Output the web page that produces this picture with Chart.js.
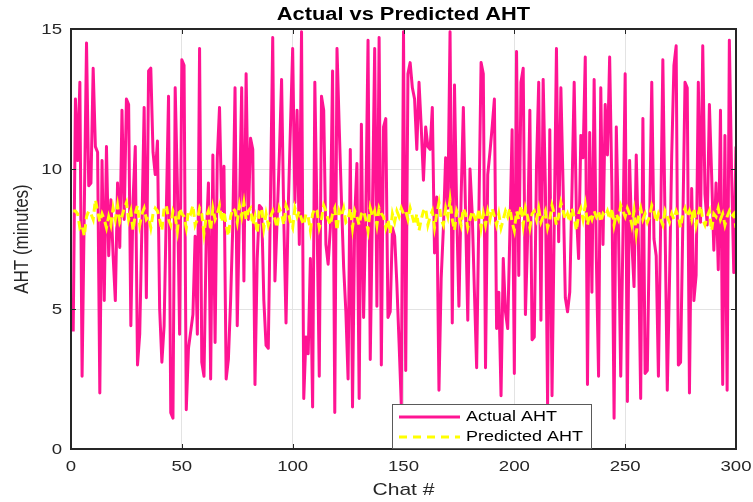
<!DOCTYPE html>
<html>
<head>
<meta charset="utf-8">
<title>Actual vs Predicted AHT</title>
<script src="https://cdn.jsdelivr.net/npm/chart.js@4.4.0/dist/chart.umd.min.js"></script>
<style>
  html, body { margin: 0; padding: 0; background: #fff; }
  #wrap { width: 753px; height: 502px; }
</style>
</head>
<body>
<div id="wrap"><canvas id="aht" width="753" height="502"></canvas></div>
<script>
// actual handle time per chat (minutes), chats 1..300
var actualAHT = [
    4.2, 12.5, 10.3, 13.1, 2.6, 8.6, 14.5, 9.4, 9.5, 13.6,
    10.8, 10.6, 2.0, 10.3, 5.3, 10.8, 6.9, 8.9, 6.9, 5.3,
    9.5, 7.2, 12.1, 8.2, 12.5, 12.3, 4.4, 8.9, 10.8, 3.0,
    4.1, 8.0, 12.2, 5.4, 13.5, 13.6, 10.6, 9.8, 11.0, 5.0,
    3.1, 4.4, 8.5, 12.6, 1.3, 1.1, 12.9, 9.4, 4.1, 13.9,
    13.7, 1.4, 3.6, 4.2, 4.8, 7.6, 4.1, 14.3, 3.1, 2.6,
    7.5, 9.5, 2.5, 10.5, 3.8, 10.4, 12.2, 8.5, 10.1, 2.5,
    3.2, 5.3, 8.0, 12.9, 4.4, 8.5, 12.9, 6.0, 13.4, 8.2,
    11.1, 10.7, 2.3, 6.8, 8.7, 8.6, 5.3, 3.7, 3.6, 9.0,
    14.7, 6.0, 8.2, 10.5, 13.2, 8.2, 4.5, 8.6, 11.5, 14.3,
    8.8, 12.1, 7.3, 14.9, 1.8, 4.0, 3.4, 6.8, 1.5, 13.1,
    8.2, 2.6, 12.6, 12.1, 7.3, 6.6, 7.9, 13.5, 1.3, 14.3,
    11.5, 8.9, 6.5, 4.9, 2.5, 10.7, 1.5, 8.3, 10.2, 1.8,
    11.6, 4.7, 8.5, 14.6, 3.2, 8.6, 14.3, 5.1, 14.7, 3.0,
    11.5, 11.8, 4.7, 4.9, 7.9, 7.6, 5.9, 3.8, 1.6, 14.9,
    2.8, 13.4, 13.8, 12.9, 12.5, 10.7, 13.1, 11.5, 9.6, 11.5,
    10.8, 10.7, 12.2, 7.0, 9.0, 2.1, 6.1, 7.9, 10.4, 8.6,
    14.9, 4.5, 13.0, 8.5, 5.1, 9.0, 12.2, 8.4, 4.6, 10.0,
    8.4, 5.6, 2.9, 8.4, 13.8, 13.4, 2.9, 9.8, 10.6, 11.5,
    12.5, 4.3, 5.6, 1.9, 6.8, 4.9, 4.3, 7.8, 11.4, 2.7,
    14.2, 6.2, 13.1, 13.6, 4.8, 7.6, 12.1, 3.9, 4.0, 10.1,
    13.1, 4.6, 13.2, 9.4, 1.6, 11.4, 1.9, 8.0, 14.3, 7.4,
    12.9, 9.4, 5.4, 4.9, 5.6, 9.2, 13.1, 8.4, 6.8, 11.2,
    10.4, 14.0, 2.3, 11.3, 5.6, 13.2, 6.8, 2.6, 12.9, 7.3,
    12.3, 10.5, 14.0, 9.4, 1.1, 11.5, 7.8, 2.6, 7.6, 13.4,
    1.7, 10.3, 7.4, 5.8, 10.5, 7.3, 1.8, 11.8, 2.7, 2.8,
    8.0, 13.1, 7.5, 6.9, 2.6, 8.0, 13.9, 8.0, 2.1, 6.0,
    10.5, 13.7, 14.4, 3.0, 3.1, 8.0, 13.1, 12.9, 2.0, 9.3,
    5.3, 6.2, 13.1, 8.1, 14.4, 9.1, 8.0, 12.3, 9.8, 7.1,
    9.5, 6.4, 12.1, 2.3, 11.2, 2.1, 14.6, 9.9, 6.3, 10.8
];

// model output for the same chats
var predictedAHT = [
    8.5, 8.5, 8.4, 7.9, 8.0, 7.6, 8.3, 8.5, 8.4, 8.2,
    8.9, 8.5, 8.1, 8.4, 8.2, 7.9, 8.3, 8.0, 8.6, 8.2,
    8.7, 8.1, 8.3, 8.6, 8.8, 8.2, 8.5, 7.8, 8.4, 8.7,
    8.0, 8.4, 8.6, 8.2, 8.3, 7.9, 8.4, 8.6, 8.5, 8.2,
    7.8, 8.6, 8.7, 8.2, 8.0, 8.5, 8.3, 7.8, 8.6, 8.4,
    8.3, 7.9, 8.5, 8.4, 8.7, 8.0, 8.2, 8.6, 8.4, 7.7,
    8.3, 8.5, 7.8, 8.6, 8.2, 8.4, 8.7, 8.1, 8.5, 8.0,
    7.6, 8.3, 8.6, 8.5, 8.1, 8.7, 8.3, 8.8, 8.2, 8.5,
    8.6, 8.0, 8.3, 7.7, 8.5, 8.6, 7.9, 8.4, 8.0, 8.3,
    8.5, 8.2, 7.9, 8.6, 8.4, 8.0, 8.7, 8.5, 8.1, 7.9,
    8.6, 8.3, 8.5, 8.2, 8.0, 8.4, 8.3, 7.8, 8.4, 8.6,
    8.5, 7.9, 8.2, 8.7, 8.5, 8.2, 8.0, 8.4, 8.6, 7.8,
    8.5, 8.3, 8.6, 8.1, 8.2, 8.6, 7.9, 8.5, 8.3, 8.0,
    8.4, 8.5, 8.2, 7.8, 8.6, 8.3, 8.5, 8.0, 8.6, 8.4,
    8.3, 7.9, 8.2, 7.7, 8.4, 8.1, 8.5, 8.3, 8.6, 8.4,
    8.5, 8.2, 8.6, 8.3, 8.0, 8.4, 7.8, 8.2, 8.5, 8.6,
    8.0, 8.3, 8.5, 7.9, 8.4, 8.8, 8.2, 8.0, 8.6, 8.3,
    8.9, 8.2, 7.8, 8.5, 8.3, 8.0, 8.6, 8.4, 7.9, 8.2,
    8.5, 8.3, 8.1, 8.6, 7.9, 8.4, 8.0, 8.5, 8.2, 8.6,
    8.3, 8.0, 8.4, 7.9, 8.2, 8.5, 8.3, 8.6, 8.1, 7.8,
    8.5, 8.2, 8.7, 8.0, 8.6, 8.3, 7.9, 8.4, 8.5, 8.2,
    8.6, 8.1, 8.3, 8.5, 7.9, 8.2, 8.7, 8.4, 8.0, 8.3,
    8.8, 8.5, 8.2, 8.4, 8.1, 8.6, 8.3, 7.8, 8.4, 8.6,
    8.2, 8.7, 8.0, 8.4, 8.2, 8.5, 8.3, 8.5, 8.1, 8.4,
    8.3, 8.5, 8.2, 8.6, 8.0, 8.4, 8.2, 8.7, 8.5, 8.3,
    8.6, 8.4, 8.0, 8.5, 7.7, 8.3, 8.6, 8.2, 8.4, 8.1,
    8.3, 8.7, 8.5, 8.1, 8.4, 8.2, 8.0, 8.5, 8.3, 8.1,
    8.4, 8.2, 8.5, 8.3, 7.9, 8.4, 8.6, 8.3, 8.5, 8.2,
    8.6, 8.0, 8.4, 8.7, 8.2, 8.0, 8.3, 8.5, 7.8, 8.4,
    8.3, 8.6, 8.2, 8.4, 8.0, 8.3, 8.5, 8.3, 8.4, 7.9
];

var xTicks = [0, 50, 100, 150, 200, 250, 300];
var yTicks = [0, 5, 10, 15];

var titleText = 'Actual vs Predicted AHT';
var xTitle = 'Chat #';
var yTitle = 'AHT (minutes)';
var seriesNames = ['Actual AHT', 'Predicted AHT'];

var pink = '#ff1493';
var yellow = '#ffff00';
var axisColor = '#262626';
var FONT = '"Liberation Sans", Arial, sans-serif';
var SX = 1.24; // text in this figure is drawn a bit wide

function toPoints(arr) {
    return arr.map(function(v, i) { return { x: i + 1, y: v }; });
}

function wideText(ctx, text, x, y, align, font) {
    ctx.save();
    ctx.translate(x, y);
    ctx.scale(SX, 1);
    ctx.font = font;
    ctx.textAlign = align;
    ctx.textBaseline = 'middle';
    ctx.fillText(text, 0, 0);
    ctx.restore();
}

// box, inward ticks, labels, title and legend, matlab style
var axesDecor = {
    id: 'axesDecor',
    afterDraw: function(chart) {
        var ctx = chart.ctx;
        var a = chart.chartArea;
        var xs = chart.scales.x, ys = chart.scales.y;
        var tl = 5;

        ctx.save();
        ctx.strokeStyle = axisColor;
        ctx.lineWidth = 1;
        ctx.beginPath();
        xTicks.forEach(function(t) {
            var px = Math.round(xs.getPixelForValue(t)) + 0.5;
            ctx.moveTo(px, a.bottom); ctx.lineTo(px, a.bottom - tl);
            ctx.moveTo(px, a.top); ctx.lineTo(px, a.top + tl);
        });
        yTicks.forEach(function(t) {
            var py = Math.round(ys.getPixelForValue(t)) + 0.5;
            ctx.moveTo(a.left, py); ctx.lineTo(a.left + tl, py);
            ctx.moveTo(a.right, py); ctx.lineTo(a.right - tl, py);
        });
        ctx.stroke();

        ctx.lineWidth = 2;
        ctx.strokeRect(a.left, a.top, a.right - a.left, a.bottom - a.top);

        ctx.fillStyle = axisColor;
        xTicks.forEach(function(t) {
            wideText(ctx, String(t), xs.getPixelForValue(t), a.bottom + 18, 'center', '15px ' + FONT);
        });
        yTicks.forEach(function(t) {
            wideText(ctx, String(t), a.left - 9, ys.getPixelForValue(t) + 1, 'right', '15px ' + FONT);
        });

        var cx = (a.left + a.right) / 2;
        wideText(ctx, xTitle, cx, a.bottom + 41, 'center', '17px ' + FONT);

        ctx.save();
        ctx.translate(22, (a.top + a.bottom) / 2);
        ctx.scale(SX, 1);
        ctx.rotate(-Math.PI / 2);
        ctx.font = '17px ' + FONT;
        ctx.textAlign = 'center';
        ctx.textBaseline = 'middle';
        ctx.fillText(yTitle, 0, 0);
        ctx.restore();

        ctx.fillStyle = '#000';
        wideText(ctx, titleText, cx, 15, 'center', 'bold 17.6px ' + FONT);

        // legend box, lower middle
        var lx = 392, ly = 404, lw = 199, lh = 44;
        ctx.fillStyle = '#fff';
        ctx.fillRect(lx, ly, lw, lh);
        ctx.strokeStyle = '#5a5a5a';
        ctx.lineWidth = 1;
        ctx.strokeRect(lx + 0.5, ly + 0.5, lw, lh);

        ctx.lineWidth = 3;
        ctx.strokeStyle = pink;
        ctx.beginPath(); ctx.moveTo(399, 417); ctx.lineTo(460, 417); ctx.stroke();
        ctx.strokeStyle = yellow;
        ctx.setLineDash([8, 6]);
        ctx.beginPath(); ctx.moveTo(399, 437); ctx.lineTo(460, 437); ctx.stroke();
        ctx.setLineDash([]);

        ctx.fillStyle = '#000';
        wideText(ctx, seriesNames[0], 466, 417, 'left', '14.5px ' + FONT);
        wideText(ctx, seriesNames[1], 466, 437, 'left', '14.5px ' + FONT);
        ctx.restore();
    }
};

var chart = new Chart(document.getElementById('aht').getContext('2d'), {
    type: 'line',
    data: {
        datasets: [{
            label: seriesNames[1],
            data: toPoints(predictedAHT),
            borderColor: yellow,
            borderWidth: 3,
            borderDash: [8, 5],
            pointRadius: 0,
            tension: 0,
            fill: false
        }, {
            label: seriesNames[0],
            data: toPoints(actualAHT),
            borderColor: pink,
            borderWidth: 3,
            borderJoinStyle: 'round',
            pointRadius: 0,
            tension: 0,
            fill: false
        }]
    },
    options: {
        responsive: false,
        animation: false,
        devicePixelRatio: 1,
        layout: { padding: { top: 29, right: 17, left: 0, bottom: 0 } },
        plugins: {
            legend: { display: false },
            title: { display: false },
            tooltip: { enabled: false }
        },
        scales: {
            x: {
                type: 'linear',
                min: 0,
                max: 300,
                ticks: { display: false, stepSize: 50 },
                afterBuildTicks: function(s) { s.ticks = xTicks.map(function(v) { return { value: v }; }); },
                afterFit: function(s) { s.height = 53; },
                grid: { color: '#e3e3e3', drawTicks: false },
                border: { display: false }
            },
            y: {
                min: 0,
                max: 15,
                ticks: { display: false, stepSize: 5 },
                afterBuildTicks: function(s) { s.ticks = yTicks.map(function(v) { return { value: v }; }); },
                afterFit: function(s) { s.width = 71; },
                grid: { color: '#e3e3e3', drawTicks: false },
                border: { display: false }
            }
        }
    },
    plugins: [axesDecor]
});
</script>
</body>
</html>
